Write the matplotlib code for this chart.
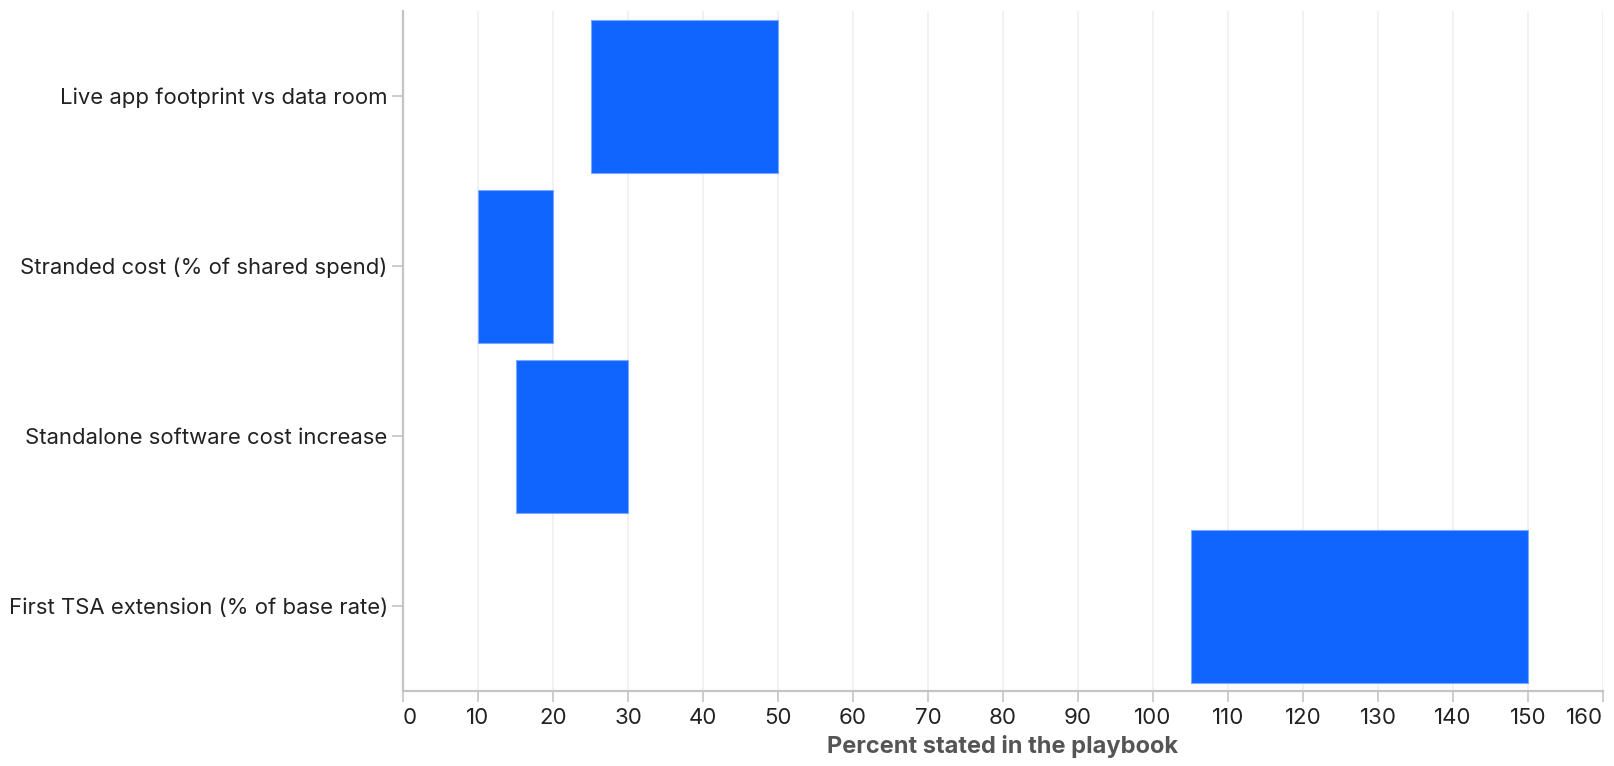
import matplotlib
matplotlib.use('Agg')
import matplotlib.pyplot as plt

# Data
categories = [
    'Live app footprint vs data room',
    'Stranded cost (% of shared spend)',
    'Standalone software cost increase',
    'First TSA extension (% of base rate)',
]
low_values = [25, 10, 15, 105]
high_values = [50, 20, 30, 150]
x_ticks = list(range(0, 161, 10))

plt.rcParams['font.family'] = ['Inter', 'DejaVu Sans']

W, H = 1614, 766
fig = plt.figure(figsize=(W / 100, H / 100), dpi=100, facecolor='white')
# plot area in pixels: x 403..1603, y 11..691
ax = fig.add_axes([403 / W, (H - 691) / H, 1200 / W, 680 / H])

ypos = list(range(len(categories)))
widths = [h - l for l, h in zip(low_values, high_values)]
ax.barh(ypos, widths, left=low_values, height=0.9, color='#1064ff',
        edgecolor='#7aa8ff', linewidth=0.8, zorder=3)

ax.set_xlim(0, 160)
ax.set_ylim(len(categories) - 0.5, -0.5)
ax.set_xticks(x_ticks)
ax.set_xticklabels([str(t) for t in x_ticks])
ax.set_yticks(ypos)
ax.set_yticklabels(categories)

ax.grid(axis='x', color='#efefef', linewidth=1.2, zorder=0)
ax.grid(axis='y', visible=False)

for side in ['top', 'right']:
    ax.spines[side].set_visible(False)
for side in ['left', 'bottom']:
    ax.spines[side].set_color('#c4c4c4')
    ax.spines[side].set_linewidth(1.6)

ax.tick_params(axis='both', colors='#c4c4c4', width=1.2, length=8,
               labelcolor='#222222')
ax.tick_params(axis='x', pad=4, labelsize=16)
ax.tick_params(axis='y', pad=3, labelsize=15.9)

# first and last x labels hug their ticks, like vega's label bounding
xlabels = ax.get_xticklabels()
xlabels[0].set_horizontalalignment('left')
xlabels[-1].set_horizontalalignment('right')

ax.set_xlabel('Percent stated in the playbook', fontsize=17,
              fontweight='bold', color='#555555', labelpad=5)

fig.savefig('out.png', dpi=100, facecolor='white')
